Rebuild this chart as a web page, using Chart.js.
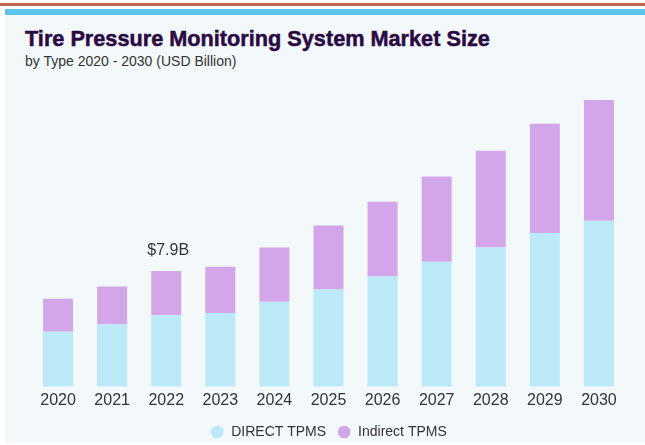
<!DOCTYPE html>
<html>
<head>
<meta charset="utf-8">
<script src="https://cdn.jsdelivr.net/npm/chart.js@4.4.1/dist/chart.umd.min.js"></script>
<style>
  html, body { margin: 0; padding: 0; background: #ffffff; }
  body { width: 645px; height: 445px; position: relative; overflow: hidden; }
  .rule { position: absolute; left: 0; top: 3px; width: 645px; height: 3px; background: #c0694f; }
  .band { position: absolute; left: 5px; top: 9px; width: 640px; height: 6px; background: #5ec6ec; }
  .panel { position: absolute; left: 5px; top: 15px; width: 640px; height: 428px; background: #f3f8fb; }
  h1 { position: absolute; left: 25px; top: 28px; margin: 0; font: bold 21.7px/22px "Liberation Sans Narrow", "Liberation Sans", sans-serif; color: #2a0a42; -webkit-text-stroke: 0.5px #2a0a42; white-space: nowrap; }
  .sub { position: absolute; left: 25px; top: 54px; margin: 0; font: 14px/14px "Liberation Sans", Arial, sans-serif; color: #333333; white-space: nowrap; }
  .wrap { position: absolute; left: 5px; top: 70px; width: 640px; height: 381px; }
</style>
</head>
<body>
<div class="rule"></div>
<div class="band"></div>
<div class="panel"></div>
<h1>Tire Pressure Monitoring System Market Size</h1>
<p class="sub">by Type 2020 - 2030 (USD Billion)</p>
<div class="wrap"><canvas id="tpmsChart"></canvas></div>
<script>
// ========== DADOS ==========
const anos = ['2020', '2021', '2022', '2023', '2024', '2025', '2026', '2027', '2028', '2029', '2030'];
const directTpms = [3.75, 4.26, 4.88, 5.04, 5.81, 6.63, 7.53, 8.53, 9.51, 10.49, 11.33];
const indirectTpms = [2.25, 2.59, 3.02, 3.15, 3.70, 4.38, 5.09, 5.81, 6.60, 7.46, 8.24];
const anoDestaque = 2; // 2022 gets the $ label

// total label above the highlighted bar
const rotuloTotal = {
    id: 'rotuloTotal',
    afterDatasetsDraw(chart) {
        const meta = chart.getDatasetMeta(1);
        const bar = meta.data[anoDestaque];
        if (!bar) return;
        const total = directTpms[anoDestaque] + indirectTpms[anoDestaque];
        const ctx = chart.ctx;
        ctx.save();
        ctx.font = '16px "Liberation Sans", Arial, sans-serif';
        ctx.fillStyle = '#333333';
        ctx.textAlign = 'center';
        ctx.textBaseline = 'middle';
        ctx.fillText('$' + total.toFixed(1) + 'B', bar.x + 2, bar.y - 20);
        ctx.restore();
    }
};

const ctx = document.getElementById('tpmsChart');
new Chart(ctx.getContext('2d'), {
    type: 'bar',
    data: {
        labels: anos,
        datasets: [
            {
                label: 'DIRECT TPMS',
                data: directTpms,
                backgroundColor: '#bce9f8',
                borderWidth: 0
            },
            {
                label: 'Indirect TPMS',
                data: indirectTpms,
                backgroundColor: '#d3a6e9',
                borderWidth: 0
            }
        ]
    },
    options: {
        responsive: true,
        maintainAspectRatio: false,
        animation: false,
        datasets: {
            bar: { barPercentage: 0.555, categoryPercentage: 1.0 }
        },
        layout: { padding: { left: 26, right: 19, top: 9, bottom: 2 } },
        plugins: {
            legend: {
                display: true,
                position: 'bottom',
                labels: {
                    usePointStyle: true,
                    pointStyle: 'circle',
                    boxWidth: 14,
                    boxHeight: 9,
                    padding: 11,
                    color: '#333333',
                    font: { size: 14, family: '"Liberation Sans", Arial, sans-serif' }
                }
            },
            title: { display: false },
            tooltip: { enabled: false }
        },
        scales: {
            x: {
                stacked: true,
                grid: { display: false, drawTicks: false },
                border: { display: false },
                ticks: {
                    color: '#333333',
                    padding: 4,
                    font: { size: 16, family: '"Liberation Sans", Arial, sans-serif' }
                }
            },
            y: {
                stacked: true,
                display: false,
                min: 0,
                max: 21
            }
        }
    },
    plugins: [rotuloTotal]
});
</script>
</body>
</html>
